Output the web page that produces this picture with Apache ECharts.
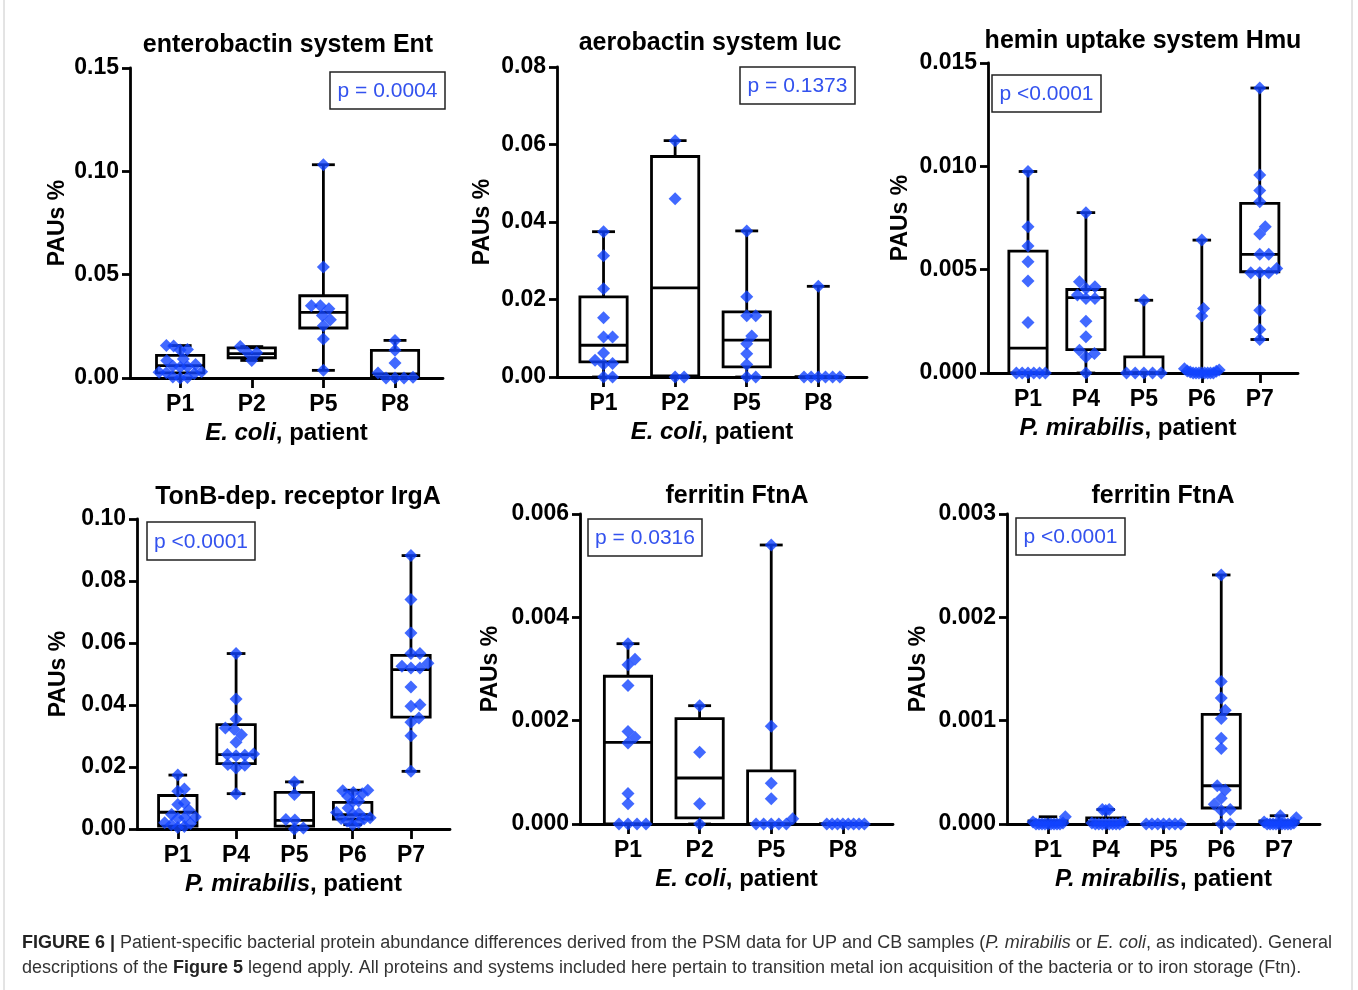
<!DOCTYPE html>
<html>
<head>
<meta charset="utf-8">
<script src="https://cdn.jsdelivr.net/npm/echarts@6/dist/echarts.min.js"></script>
<style>
  html, body { margin: 0; padding: 0; background: #fff; }
  #chart { width: 1358px; height: 990px; }
</style>
</head>
<body>
<div id="chart"></div>
<script>
// ---- data ----
// box stats per group: [min, q1, median, q3, max]
var entCats = ['P1', 'P2', 'P5', 'P8'];
var entBoxes = [
    [0, 0.0025, 0.006, 0.0109, 0.0157],
    [0.0085, 0.0098, 0.0118, 0.0146, 0.0152],
    [0.0037, 0.0242, 0.0318, 0.0398, 0.1032],
    [0, 0.0004, 0.002, 0.0134, 0.0182]
];
var entPoints = [
    [0.0157, 0.0155, 0.0138, 0.0135, 0.0092, 0.0085, 0.0065, 0.0058, 0.0055, 0.0052, 0.003, 0.0028, 0.0025, 0.0022, 0.0005, 0.0003, 0],
    [0.0152, 0.0124, 0.0122, 0.0085],
    [0.1032, 0.0537, 0.035, 0.035, 0.0335, 0.0303, 0.0282, 0.0253, 0.0189, 0.0037],
    [0.0182, 0.0134, 0.0073, 0.0024, 0.0004, 0, 0, 0]
];

var iucCats = ['P1', 'P2', 'P5', 'P8'];
var iucBoxes = [
    [0, 0.0039, 0.0082, 0.0207, 0.0375],
    [0, 0.0003, 0.023, 0.0569, 0.061],
    [0, 0.0026, 0.0095, 0.0168, 0.0377],
    [0, 0, 0, 0, 0.0234]
];
var iucPoints = [
    [0.0375, 0.0313, 0.0228, 0.0153, 0.0103, 0.0103, 0.0062, 0.0043, 0.0035, 0.0033, 0, 0],
    [0.061, 0.046, 0, 0],
    [0.0377, 0.0207, 0.0158, 0.0158, 0.0106, 0.0086, 0.006, 0.0032, 0, 0],
    [0.0234, 0, 0, 0, 0, 0, 0]
];

var hmuCats = ['P1', 'P4', 'P5', 'P6', 'P7'];
var hmuBoxes = [
    [0, 0, 0.0012, 0.0059, 0.00975],
    [0, 0.00113, 0.00365, 0.00404, 0.00776],
    [0, 0, 0, 0.00078, 0.00352],
    [0, 0, 0, 0.00005, 0.00643],
    [0.00162, 0.0049, 0.00574, 0.00821, 0.01379]
];
var hmuPoints = [
    [0.00975, 0.00708, 0.00614, 0.00538, 0.00445, 0.00244, 0, 0, 0, 0, 0, 0],
    [0.00776, 0.00441, 0.00417, 0.00409, 0.00377, 0.00361, 0.00361, 0.00251, 0.00175, 0.0011, 0.00094, 0.00078, 0],
    [0.00352, 0, 0, 0, 0, 0],
    [0.00643, 0.00312, 0.00276, 0.0002, 0.00015, 0.0001, 0.00008, 0.00005, 0, 0, 0, 0, 0, 0, 0, 0],
    [0.01379, 0.00958, 0.00883, 0.00829, 0.00708, 0.00672, 0.00574, 0.00574, 0.00506, 0.00485, 0.00485, 0.00485, 0.00304, 0.0021, 0.00162]
];

var irgCats = ['P1', 'P4', 'P5', 'P6', 'P7'];
var irgBoxes = [
    [0.0005, 0.0009, 0.0054, 0.0108, 0.0174],
    [0.0114, 0.0211, 0.024, 0.0337, 0.0566],
    [0, 0.0009, 0.0028, 0.0118, 0.0152],
    [0.0014, 0.0032, 0.0046, 0.0086, 0.0125],
    [0.0186, 0.0361, 0.0514, 0.056, 0.0882]
];
var irgPoints = [
    [0.0174, 0.0129, 0.0122, 0.0084, 0.0079, 0.0061, 0.0047, 0.0039, 0.0037, 0.0035, 0.002, 0.0018, 0.0014, 0.0008, 0.0005],
    [0.0566, 0.0419, 0.0355, 0.0326, 0.0322, 0.0304, 0.028, 0.0242, 0.024, 0.0238, 0.0236, 0.0208, 0.0206, 0.0197, 0.0114],
    [0.0152, 0.0111, 0.0031, 0.0029, 0.0003, 0],
    [0.0125, 0.0123, 0.0118, 0.0114, 0.0106, 0.009, 0.0088, 0.0068, 0.0053, 0.005, 0.0048, 0.0036, 0.0034, 0.0033, 0.0025, 0.0021, 0.0014],
    [0.0882, 0.074, 0.0632, 0.0566, 0.0566, 0.0535, 0.0525, 0.0519, 0.0519, 0.0458, 0.0401, 0.0396, 0.0358, 0.0344, 0.0301, 0.0186]
];

var ftnEcCats = ['P1', 'P2', 'P5', 'P8'];
var ftnEcBoxes = [
    [0, 0, 0.00158, 0.00286, 0.00349],
    [0, 0.00012, 0.00089, 0.00204, 0.00229],
    [0, 0, 0, 0.00103, 0.0054],
    [0, 0, 0, 0, 0]
];
var ftnEcPoints = [
    [0.00349, 0.00319, 0.00308, 0.00268, 0.00179, 0.00168, 0.00157, 0.00059, 0.00039, 0, 0, 0, 0],
    [0.00229, 0.00139, 0.00039, 0],
    [0.0054, 0.00189, 0.00079, 0.00049, 0.0001, 0, 0, 0, 0, 0],
    [0, 0, 0, 0, 0, 0, 0, 0]
];

var ftnPmCats = ['P1', 'P4', 'P5', 'P6', 'P7'];
var ftnPmBoxes = [
    [0, 0, 0, 0.00003, 0.00007],
    [0, 0, 0.00002, 0.00006, 0.00014],
    [0, 0, 0, 0, 0],
    [0, 0.000155, 0.00037, 0.00106, 0.00241],
    [0, 0, 0, 0.00003, 0.00008]
];
var ftnPmPoints = [
    [0.00007, 0.00002, 0.00001, 0, 0, 0, 0, 0, 0, 0, 0, 0],
    [0.00014, 0.00014, 0.00013, 0.00002, 0.00001, 0, 0, 0, 0, 0, 0, 0, 0],
    [0, 0, 0, 0, 0, 0, 0],
    [0.00241, 0.00138, 0.00122, 0.0011, 0.00102, 0.00083, 0.00073, 0.00037, 0.00033, 0.00025, 0.00019, 0.00014, 0.00013, 0, 0],
    [0.00008, 0.00006, 0.00002, 0.00001, 0, 0, 0, 0, 0, 0, 0, 0, 0]
];

var titles = ['enterobactin system Ent', 'aerobactin system Iuc', 'hemin uptake system Hmu',
              'TonB-dep. receptor IrgA', 'ferritin FtnA', 'ferritin FtnA'];
var pValues = ['p = 0.0004', 'p = 0.1373', 'p <0.0001', 'p <0.0001', 'p = 0.0316', 'p <0.0001'];
var yMaxes = [0.15, 0.08, 0.015, 0.10, 0.006, 0.003];
var yIntervals = [0.05, 0.02, 0.005, 0.02, 0.002, 0.001];
var yDigits = [2, 2, 3, 2, 3, 3];
var species = ['E. coli', 'E. coli', 'P. mirabilis', 'P. mirabilis', 'E. coli', 'P. mirabilis'];

// ---- layout ----
var FONT = '"Liberation Sans", Arial, sans-serif';
var DOT = '#1144ff';
var panels = [
    {cats: entCats, boxes: entBoxes, pts: entPoints, left: 130, top: 68, width: 313, xMin: -0.7, xMax: 3.67, nameGap: 61, namePad: 0, pbox: [330, 72, 115, 37]},
    {cats: iucCats, boxes: iucBoxes, pts: iucPoints, left: 557, top: 67, width: 310, xMin: -0.65, xMax: 3.68, nameGap: 63, namePad: 0, pbox: [740, 67, 115, 37]},
    {cats: hmuCats, boxes: hmuBoxes, pts: hmuPoints, left: 988, top: 63, width: 310, xMin: -0.69, xMax: 4.66, nameGap: 76, namePad: 30, pbox: [992, 75, 109, 37]},
    {cats: irgCats, boxes: irgBoxes, pts: irgPoints, left: 137, top: 519, width: 313, xMin: -0.7, xMax: 4.67, nameGap: 67, namePad: 0, pbox: [147, 522, 108, 38]},
    {cats: ftnEcCats, boxes: ftnEcBoxes, pts: ftnEcPoints, left: 580, top: 514, width: 313, xMin: -0.67, xMax: 3.7, nameGap: 78, namePad: 0, pbox: [588, 519, 114, 37]},
    {cats: ftnPmCats, boxes: ftnPmBoxes, pts: ftnPmPoints, left: 1007, top: 514, width: 313, xMin: -0.71, xMax: 4.71, nameGap: 77, namePad: 0, pbox: [1016, 518, 109, 37]}
];
var titlePos = [[288, 45], [710, 43], [1143, 41], [298, 497], [737, 496], [1163, 496]];
var PLOT_H = 310;

// simple beeswarm, offsets in px
function swarm(vals, pxPerUnit, D, maxHalf) {
    var order = vals.map(function (v, i) { return i; }).sort(function (a, b) { return vals[a] - vals[b]; });
    var placed = [];
    var off = [];
    order.forEach(function (i) {
        var y = vals[i] * pxPerUnit;
        var x = 0;
        for (var k = 0; k < 400; k++) {
            var cand = (k % 2 === 1 ? 1 : -1) * Math.ceil(k / 2) * 0.5;
            var ok = true;
            for (var j = 0; j < placed.length; j++) {
                var dy = Math.abs(y - placed[j][1]);
                if (dy < D && Math.abs(cand - placed[j][0]) < Math.sqrt(D * D - dy * dy) - 1e-6) { ok = false; break; }
            }
            if (ok) { x = cand; break; }
        }
        placed.push([x, y]);
        off[i] = x;
    });
    var m = 0;
    off.forEach(function (o) { m = Math.max(m, Math.abs(o)); });
    var s = m > maxHalf ? maxHalf / m : 1;
    return off.map(function (o) { return o * s; });
}

function boxItem(params, api) {
    var i = api.value(0);
    var lo = api.value(1), q1 = api.value(2), md = api.value(3), q3 = api.value(4), hi = api.value(5);
    var bw = 0.33, cw = 0.16;
    var a = api.coord([i - bw, q3]), b = api.coord([i + bw, q1]);
    var m1 = api.coord([i - bw, md]), m2 = api.coord([i + bw, md]);
    var top = api.coord([i, hi]), bot = api.coord([i, lo]);
    var c1 = api.coord([i - cw, hi])[0], c2 = api.coord([i + cw, hi])[0];
    var ls = {stroke: '#000', lineWidth: 2.8, fill: null};
    return {
        type: 'group',
        children: [
            {type: 'line', shape: {x1: top[0], y1: top[1], x2: top[0], y2: a[1]}, style: ls},
            {type: 'line', shape: {x1: bot[0], y1: b[1], x2: bot[0], y2: bot[1]}, style: ls},
            {type: 'line', shape: {x1: c1, y1: top[1], x2: c2, y2: top[1]}, style: ls},
            {type: 'line', shape: {x1: c1, y1: bot[1], x2: c2, y2: bot[1]}, style: ls},
            {type: 'rect', shape: {x: a[0], y: a[1], width: b[0] - a[0], height: b[1] - a[1]}, style: {stroke: '#000', lineWidth: 2.8, fill: 'none'}},
            {type: 'line', shape: {x1: m1[0], y1: m1[1], x2: m2[0], y2: m2[1]}, style: ls}
        ]
    };
}

var grids = [], xAxes = [], yAxes = [], series = [], graphics = [];

panels.forEach(function (p, k) {
    var idx = p.cats.map(function (c, i) { return i; });
    grids.push({left: p.left, top: p.top, width: p.width, height: PLOT_H});
    xAxes.push({
        type: 'value', gridIndex: k, min: p.xMin, max: p.xMax,
        name: '{i|' + species[k] + '}, patient', nameLocation: 'middle', nameGap: 43,
        nameTextStyle: {color: '#000', fontFamily: FONT, fontWeight: 'bold', fontSize: 24, padding: [0, p.namePad, 0, 0],
            rich: {i: {fontStyle: 'italic', fontWeight: 'bold', fontSize: 24, fontFamily: FONT, color: '#000'}}},
        splitLine: {show: false},
        axisLine: {onZero: false, lineStyle: {color: '#000', width: 2.8}},
        axisTick: {customValues: idx, length: 10, lineStyle: {color: '#000', width: 2.8}},
        axisLabel: {customValues: idx, margin: 15, color: '#000', fontFamily: FONT, fontWeight: 'bold', fontSize: 23,
            formatter: function (v) { return p.cats[Math.round(v)]; }}
    });
    yAxes.push({
        type: 'value', gridIndex: k, min: 0, max: yMaxes[k], interval: yIntervals[k],
        name: 'PAUs %', nameLocation: 'middle', nameGap: p.nameGap,
        nameTextStyle: {color: '#000', fontFamily: FONT, fontWeight: 'bold', fontSize: 23},
        splitLine: {show: false},
        axisLine: {show: true, onZero: false, lineStyle: {color: '#000', width: 2.8}},
        axisTick: {show: true, length: 8, lineStyle: {color: '#000', width: 2.8}},
        axisLabel: {margin: 11, color: '#000', fontFamily: FONT, fontWeight: 'bold', fontSize: 23,
            formatter: function (v) { return v.toFixed(yDigits[k]); }}
    });

    series.push({
        type: 'custom', xAxisIndex: k, yAxisIndex: k, clip: false, z: 3,
        renderItem: boxItem,
        data: p.boxes.map(function (b, i) { return [i].concat(b); })
    });

    var spacing = p.width / (p.xMax - p.xMin);
    var pts = [];
    p.pts.forEach(function (vals, i) {
        var off = swarm(vals, PLOT_H / yMaxes[k], 9, spacing * 0.3);
        vals.forEach(function (v, j) { pts.push([i + off[j] / spacing, v]); });
    });
    series.push({
        type: 'scatter', xAxisIndex: k, yAxisIndex: k, z: 4, clip: false,
        symbol: 'diamond', symbolSize: 13,
        itemStyle: {color: DOT},
        data: pts
    });

    graphics.push({
        type: 'text', x: titlePos[k][0], y: titlePos[k][1],
        style: {text: titles[k], fill: '#000', font: 'bold 25px ' + FONT, textAlign: 'center', textVerticalAlign: 'middle'}
    });
    graphics.push({
        type: 'rect', shape: {x: p.pbox[0], y: p.pbox[1], width: p.pbox[2], height: p.pbox[3]},
        style: {fill: '#fff', stroke: '#222', lineWidth: 1.5}
    });
    graphics.push({
        type: 'text', x: p.pbox[0] + p.pbox[2] / 2, y: p.pbox[1] + p.pbox[3] / 2 + 1,
        style: {text: pValues[k], fill: '#3352ee', font: '21px ' + FONT, textAlign: 'center', textVerticalAlign: 'middle'}
    });
});

// light frame edges of the figure box
graphics.push({type: 'line', shape: {x1: 4, y1: 0, x2: 4, y2: 990}, style: {stroke: '#c8c8c8', lineWidth: 1}});
graphics.push({type: 'line', shape: {x1: 1352, y1: 0, x2: 1352, y2: 990}, style: {stroke: '#c8c8c8', lineWidth: 1}});

var CAP = '"Liberation Sans Narrow", "Liberation Sans", Arial, sans-serif';
graphics.push({
    type: 'text', left: 22, top: 934,
    style: {
        text: '{b|FIGURE 6 | }{n|Patient-specific bacterial protein abundance differences derived from the PSM data for UP and CB samples (}{i|P. mirabilis}{n| or }{i|E. coli}{n|, as indicated). General}\n' +
              '{n|descriptions of the }{b|Figure 5}{n| legend apply. All proteins and systems included here pertain to transition metal ion acquisition of the bacteria or to iron storage (Ftn).}',
        rich: {
            b: {fontFamily: CAP, fontSize: 18, fontWeight: 'bold', fill: '#222', lineHeight: 25},
            n: {fontFamily: CAP, fontSize: 18, fill: '#333', lineHeight: 25},
            i: {fontFamily: CAP, fontSize: 18, fontStyle: 'italic', fill: '#333', lineHeight: 25}
        }
    }
});

var chart = echarts.init(document.getElementById('chart'));
chart.setOption({
    backgroundColor: '#fff',
    animation: false,
    grid: grids,
    xAxis: xAxes,
    yAxis: yAxes,
    series: series,
    graphic: graphics
});
</script>
</body>
</html>
